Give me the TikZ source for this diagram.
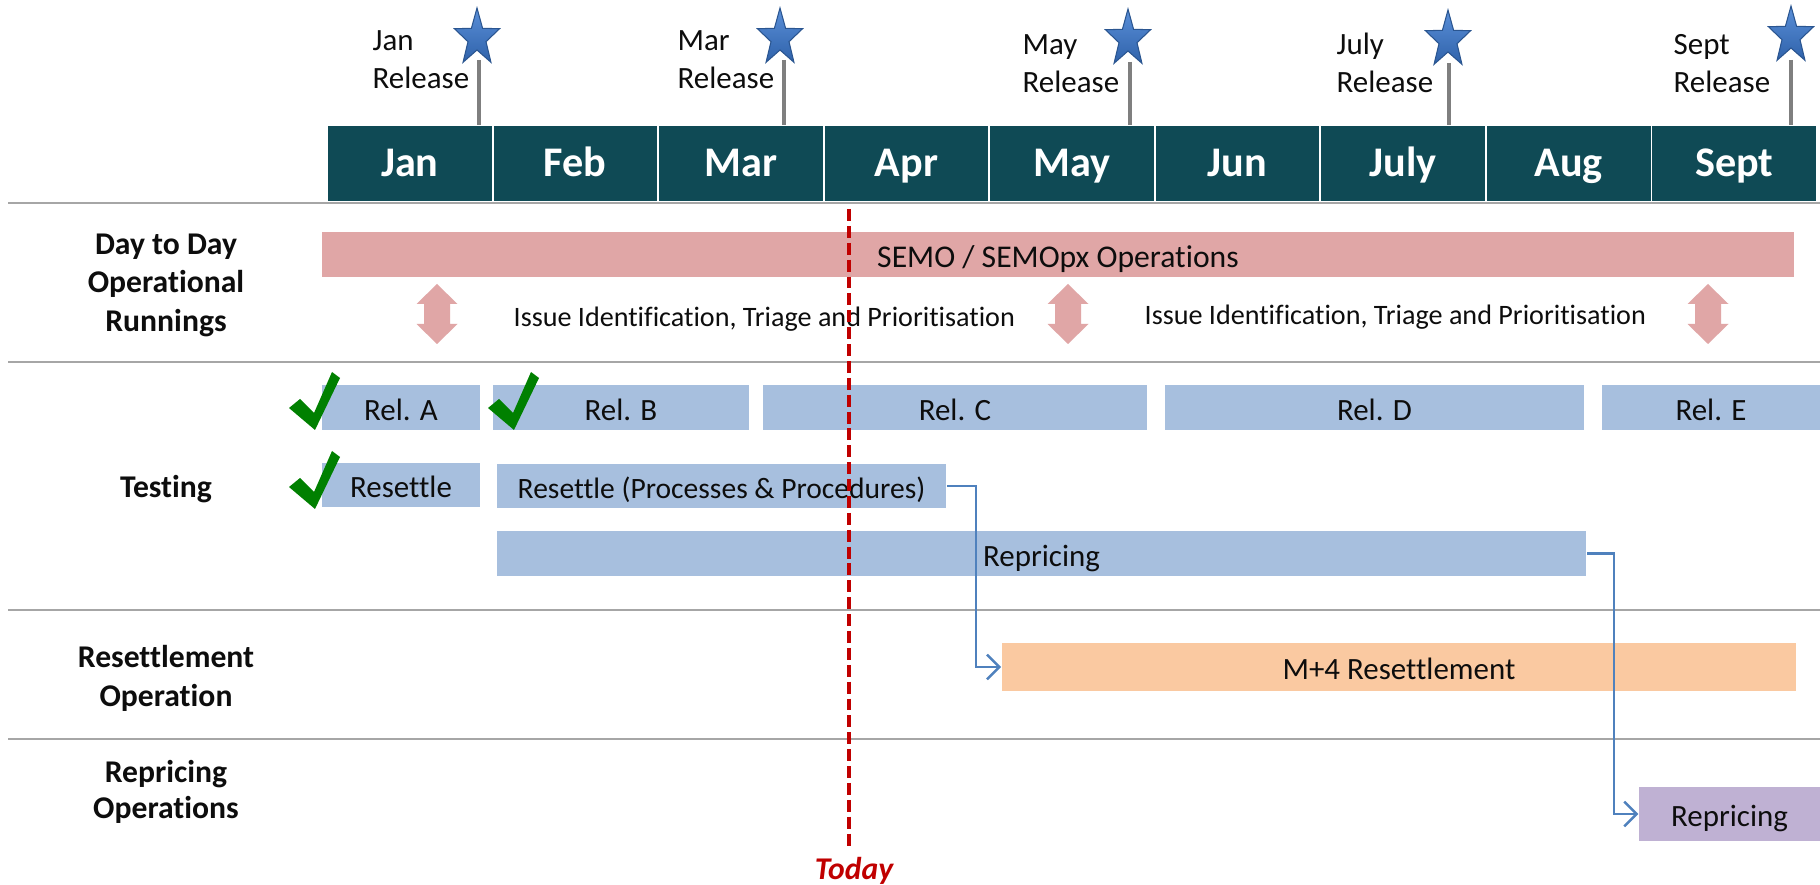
\documentclass[tikz,border=0pt]{standalone}
\usepackage{fontspec}
\setmainfont{Carlito}[Ligatures={NoCommon,NoContextual}]
\usetikzlibrary{arrows.meta}
\definecolor{headcol}{HTML}{0F4A55}
\definecolor{barblue}{HTML}{A7BFDE}
\definecolor{barpink}{HTML}{E0A6A6}
\definecolor{barorange}{HTML}{FAC9A1}
\definecolor{barpurple}{HTML}{BFB1D3}
\definecolor{connblue}{HTML}{4F81BD}
\definecolor{todayred}{HTML}{C00000}
\definecolor{sepgray}{HTML}{A6A6A6}
\definecolor{polegray}{HTML}{7F7F7F}
\definecolor{tickgreen}{HTML}{008000}
\definecolor{starlight}{HTML}{5A8FD8}
\definecolor{stardark}{HTML}{2F62AA}
\definecolor{staredge}{HTML}{2A5590}
\definecolor{txt}{HTML}{0D0D0D}
\begin{document}
\begin{tikzpicture}[x=0.01cm,y=-0.01cm,
  month/.style={fill=headcol,text=white,font=\bfseries\fontsize{12}{14}\selectfont,
    minimum width=1.635cm,minimum height=0.75cm,inner sep=0pt,text height=0.72em,text depth=0pt},
  rel/.style={font=\fontsize{8.8}{10.6}\selectfont,text=txt,anchor=base west,inner sep=0pt},
  lab/.style={font=\bfseries\fontsize{9}{11}\selectfont,text=txt,anchor=base,inner sep=0pt},
  bar/.style={inner sep=0pt,text=txt,font=\fontsize{8.8}{10.6}\selectfont,text height=0.72em,text depth=0pt},
  issue/.style={font=\fontsize{8.0}{10}\selectfont,text=txt,anchor=base west,inner sep=0pt},
  sep/.style={draw=sepgray,line width=0.85pt},
  pole/.style={draw=polegray,line width=1.1pt},
  conn/.style={draw=connblue,line width=0.7pt,-{Straight Barb[length=3.5pt,width=7pt]}},
  todayline/.style={draw=todayred,line width=1.1pt,dash pattern=on 3.4pt off 1.4pt},
  relstar/.pic={\path[top color=starlight,bottom color=stardark,draw=staredge,line width=0.3pt,xscale=0.79]
      (270:30) -- (306:12) -- (342:30) -- (18:12) -- (54:30) -- (90:12) -- (126:30) -- (162:12) -- (198:30) -- (234:12) -- cycle;},
  dblarrow/.pic={\fill[barpink] (0,-30) -- (20.5,-10) -- (13,-10) -- (13,10) -- (20.5,10) -- (0,30)
      -- (-20.5,10) -- (-13,10) -- (-13,-10) -- (-20.5,-10) -- cycle;},
  tick/.pic={\fill[tickgreen] (-26,-22) -- (-15,-31) -- (-1,-17) -- (17,-58) -- (25,-52) -- (0,0) -- cycle;}
]
\useasboundingbox[fill=white] (0,0) rectangle (1820,885);

% month header
\node[month] (jan) at (409.8,163.5) {Jan};
\node[month] (feb) at (575.3,163.5) {Feb};
\node[month] (mar) at (740.9,163.5) {Mar};
\node[month] (apr) at (906.5,163.5) {Apr};
\node[month] (may) at (1072,163.5) {May};
\node[month] (jun) at (1237.6,163.5) {Jun};
\node[month] (jul) at (1403.1,163.5) {July};
\node[month] (aug) at (1568.7,163.5) {Aug};
\node[month] (sep) at (1734.2,163.5) {Sept};

% release poles and stars
\coordinate (pj) at (479,60);
\coordinate (pm) at (784,60);
\coordinate (pa) at (1130,62);
\coordinate (pu) at (1449,63);
\coordinate (ps) at (1791,60);
\draw[pole] (pj) -- (pj |- jan.north);
\draw[pole] (pm) -- (pm |- mar.north);
\draw[pole] (pa) -- (pa |- may.north);
\draw[pole] (pu) -- (pu |- jul.north);
\draw[pole] (ps) -- (ps |- sep.north);
\pic (sj) at (477,38) {relstar};
\pic (sm) at (780,38) {relstar};
\pic (sa) at (1128,39) {relstar};
\pic (su) at (1448,40) {relstar};
\pic (ss) at (1791,36) {relstar};

% release labels
\node[rel] (rj1) at (372,51) {Jan};
\node[rel] (rj2) at (372,89) {Release};
\node[rel] (rm1) at (677,51) {Mar};
\node[rel] (rm2) at (677,89) {Release};
\node[rel] (ra1) at (1022,55) {May};
\node[rel] (ra2) at (1022,93) {Release};
\node[rel] (ru1) at (1336,55) {July};
\node[rel] (ru2) at (1336,93) {Release};
\node[rel] (rs1) at (1673,55) {Sept};
\node[rel] (rs2) at (1673,93) {Release};

% separators
\draw[sep] (8,203) -- (1820,203);
\draw[sep] (8,362) -- (1820,362);
\draw[sep] (8,610) -- (1820,610);
\draw[sep] (8,739) -- (1820,739);

% row labels
\node[lab] (l1a) at (166,255) {Day to Day};
\node[lab] (l1b) at (166,293) {Operational};
\node[lab] (l1c) at (166,332) {Runnings};
\node[lab] (l2) at (166,498) {Testing};
\node[lab] (l3a) at (166,667) {Resettlement};
\node[lab] (l3b) at (166,706) {Operation};
\node[lab] (l4a) at (166,782) {Repricing};
\node[lab] (l4b) at (166,818) {Operations};

% day to day
\node[bar,fill=barpink,minimum width=14.72cm,minimum height=0.45cm,font=\fontsize{9}{11}\selectfont] (semo) at (1058,254.5) {SEMO / SEMOpx Operations};
\pic (d1) at (437,314) {dblarrow};
\pic (d2) at (1068,314) {dblarrow};
\pic (d3) at (1708,314) {dblarrow};
\node[issue] (iss1) at (513,327) {Issue Identification, Triage and Prioritisation};
\node[issue] (iss2) at (1144,325) {Issue Identification, Triage and Prioritisation};

% testing
\node[bar,fill=barblue,minimum width=1.58cm,minimum height=0.45cm] (rela) at (401,407.5) {Rel. A};
\node[bar,fill=barblue,minimum width=2.56cm,minimum height=0.45cm] (relb) at (621,407.5) {Rel. B};
\node[bar,fill=barblue,minimum width=3.84cm,minimum height=0.45cm] (relc) at (955,407.5) {Rel. C};
\node[bar,fill=barblue,minimum width=4.19cm,minimum height=0.45cm] (reld) at (1374.5,407.5) {Rel. D};
\node[bar,fill=barblue,minimum width=2.18cm,minimum height=0.45cm] (rele) at (1711,407.5) {Rel. E};
\node[bar,fill=barblue,minimum width=1.58cm,minimum height=0.44cm] (res) at (401,485) {Resettle};
\node[bar,fill=barblue,minimum width=4.49cm,minimum height=0.44cm,font=\fontsize{8.4}{10}\selectfont] (rpp) at (721.5,486) {Resettle (Processes \& Procedures)};
\node[bar,fill=barblue,minimum width=10.89cm,minimum height=0.45cm] (rep) at (1041.5,553.5) {Repricing};

% operations
\node[bar,fill=barorange,minimum width=7.94cm,minimum height=0.48cm] (m4) at (1399,667) {M+4 Resettlement};
\node[bar,fill=barpurple,minimum width=1.81cm,minimum height=0.54cm] (rp2) at (1729.5,814) {Repricing};

% ticks
\pic (t1) at (315,430) {tick};
\pic (t2) at (514,430) {tick};
\pic (t3) at (315,509) {tick};

% connectors
\draw[conn] (rpp.east) -- ++(29,0) |- (m4.west);
\draw[conn] (rep.east) -- ++(27,0) |- (rp2.west);

% today
\coordinate (ttop) at (849,209);
\coordinate (tbot) at (849,846);
\draw[todayline] (ttop) -- (tbot);
\node[anchor=base,inner sep=0pt,font=\bfseries\itshape\fontsize{9}{11}\selectfont,text=todayred] (today) at (854,879) {Today};
\end{tikzpicture}
\end{document}
